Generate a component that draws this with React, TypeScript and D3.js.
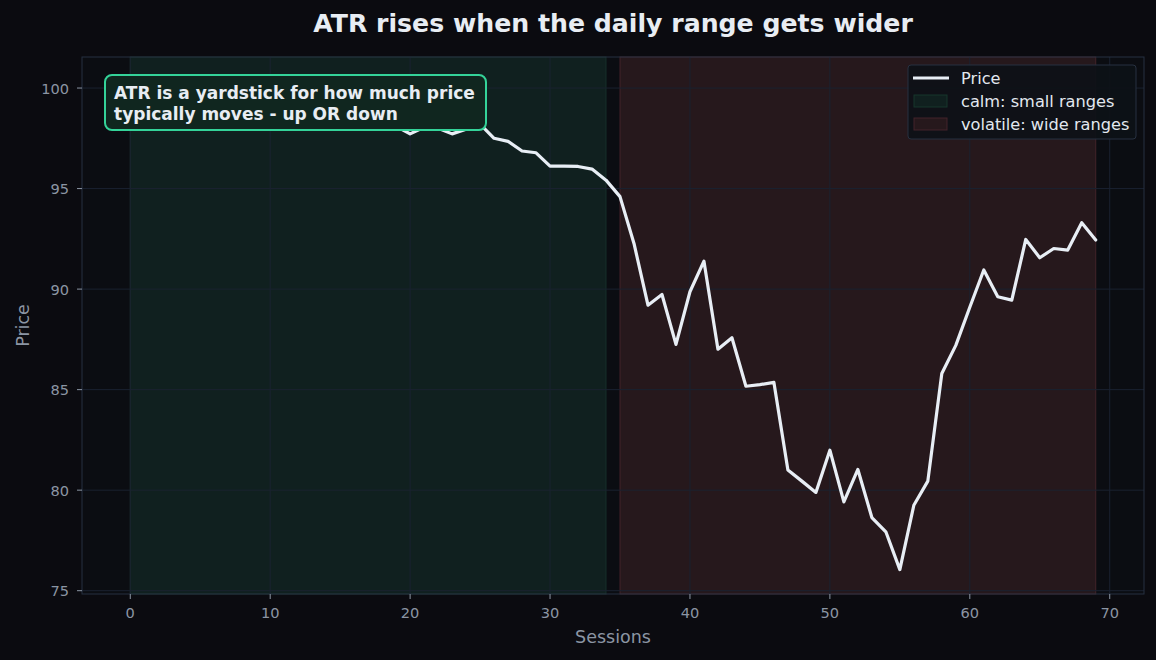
import * as d3 from 'd3';

// price per session (sessions 0..69)
const sessions = d3.range(0, 70);
const price = [
  99.6, 99.9, 100.1, 100.33, 100.0, 99.8, 99.9, 99.6, 99.4, 99.5,
  99.2, 99.3, 99.0, 98.9, 99.1, 98.7, 98.6, 98.4, 98.5, 98.1,
  97.72, 98.05, 98.0, 97.72, 97.95, 98.2, 97.5, 97.35, 96.87, 96.78,
  96.12, 96.12, 96.1, 95.97, 95.42, 94.6, 92.27, 89.2, 89.73, 87.25,
  89.87, 91.39, 87.01, 87.58, 85.17, 85.25, 85.36, 81.0, 80.45, 79.89,
  81.99, 79.42, 81.03, 78.64, 77.93, 76.05, 79.25, 80.45, 85.8, 87.2,
  89.1, 90.95, 89.62, 89.45, 92.47, 91.56, 92.02, 91.94, 93.3, 92.44,
];

const calmSpan = [0, 34];
const volatileSpan = [35, 69];
const xTicks = [0, 10, 20, 30, 40, 50, 60, 70];
const yTicks = [75, 80, 85, 90, 95, 100];
const legendLabels = ['Price', 'calm: small ranges', 'volatile: wide ranges'];
const noteLines = ['ATR is a yardstick for how much price', 'typically moves - up OR down'];

const W = 1156;
const H = 660;
const M = { top: 57, right: 12, bottom: 66, left: 82 };
const FONT = "'DejaVu Sans', sans-serif";
const TICK = '#8b95a3';

export default function App() {
  const x0 = d3.min(sessions) ?? 0;
  const x1 = d3.max(sessions) ?? 1;
  const xPad = (x1 - x0) * 0.05;
  const y0 = d3.min(price) ?? 0;
  const y1 = d3.max(price) ?? 1;
  const yPad = (y1 - y0) * 0.05;

  const x = d3.scaleLinear().domain([x0 - xPad, x1 + xPad]).range([M.left, W - M.right]);
  const y = d3.scaleLinear().domain([y0 - yPad, y1 + yPad]).range([H - M.bottom, M.top]);

  const line = d3
    .line<number>()
    .x((_, i) => x(sessions[i]))
    .y((d) => y(d));

  const top = M.top;
  const bottom = H - M.bottom;
  const left = M.left;
  const right = W - M.right;

  return (
    <svg
      width={W}
      height={H}
      style={{ position: 'fixed', left: 0, top: 0, display: 'block', fontFamily: FONT }}
    >
      <rect width={W} height={H} fill="#0b0b10" />
      <rect x={left} y={top} width={right - left} height={bottom - top} fill="#0b0d12" />

      {/* shaded regimes */}
      <rect
        x={x(calmSpan[0])}
        y={top}
        width={x(calmSpan[1]) - x(calmSpan[0])}
        height={bottom - top}
        fill="#10201f"
        stroke="#17302b"
        strokeWidth={1}
      />
      <rect
        x={x(volatileSpan[0])}
        y={top}
        width={x(volatileSpan[1]) - x(volatileSpan[0])}
        height={bottom - top}
        fill="#26181c"
        stroke="#43232a"
        strokeWidth={1}
      />

      {/* grid */}
      {xTicks.map((t) => (
        <line key={'gx' + t} x1={x(t)} x2={x(t)} y1={top} y2={bottom} stroke="#1a2230" strokeWidth={1} />
      ))}
      {yTicks.map((t) => (
        <line key={'gy' + t} x1={left} x2={right} y1={y(t)} y2={y(t)} stroke="#1a2230" strokeWidth={1} />
      ))}

      {/* price line */}
      <path
        d={line(price) ?? ''}
        fill="none"
        stroke="#e8eef5"
        strokeWidth={3.2}
        strokeLinejoin="round"
        strokeLinecap="round"
      />

      {/* frame */}
      <rect x={left} y={top} width={right - left} height={bottom - top} fill="none" stroke="#263140" strokeWidth={1} />

      {/* x axis */}
      {xTicks.map((t) => (
        <g key={'xt' + t}>
          <line x1={x(t)} x2={x(t)} y1={bottom} y2={bottom + 5} stroke={TICK} strokeWidth={1} />
          <text x={x(t)} y={bottom + 24} fill={TICK} fontSize={14.6} textAnchor="middle">
            {t}
          </text>
        </g>
      ))}
      {yTicks.map((t) => (
        <g key={'yt' + t}>
          <line x1={left - 5} x2={left} y1={y(t)} y2={y(t)} stroke={TICK} strokeWidth={1} />
          <text x={left - 13} y={y(t) + 5.5} fill={TICK} fontSize={14.6} textAnchor="end">
            {t}
          </text>
        </g>
      ))}

      <text x={(left + right) / 2} y={643} fill={TICK} fontSize={17.5} textAnchor="middle">
        Sessions
      </text>
      <text
        transform={`translate(29,${(top + bottom) / 2}) rotate(-90)`}
        fill={TICK}
        fontSize={17.5}
        textAnchor="middle"
      >
        Price
      </text>

      <text
        x={(left + right) / 2}
        y={32}
        fill="#e8edf3"
        fontSize={25.2}
        fontWeight="bold"
        textAnchor="middle"
      >
        ATR rises when the daily range gets wider
      </text>

      {/* annotation */}
      <rect x={105} y={75} width={381} height={55} rx={7} fill="#10261f" stroke="#34d399" strokeWidth={2} />
      {noteLines.map((s, i) => (
        <text key={s} x={114} y={99 + i * 21} fill="#e8edf3" fontSize={17} fontWeight="bold">
          {s}
        </text>
      ))}

      {/* legend */}
      <g>
        <rect x={908} y={65} width={228} height={74} rx={3} fill="#0d1117" fillOpacity={0.92} stroke="#273140" />
        <line x1={913} x2={949} y1={78} y2={78} stroke="#e8eef5" strokeWidth={3.2} />
        <rect x={914} y={95} width={33} height={12} fill="#10201f" stroke="#17362d" />
        <rect x={914} y={118} width={33} height={12} fill="#26181c" stroke="#43232a" />
        {legendLabels.map((s, i) => (
          <text key={s} x={961} y={84 + i * 23} fill="#e2e8ef" fontSize={16.2}>
            {s}
          </text>
        ))}
      </g>
    </svg>
  );
}
